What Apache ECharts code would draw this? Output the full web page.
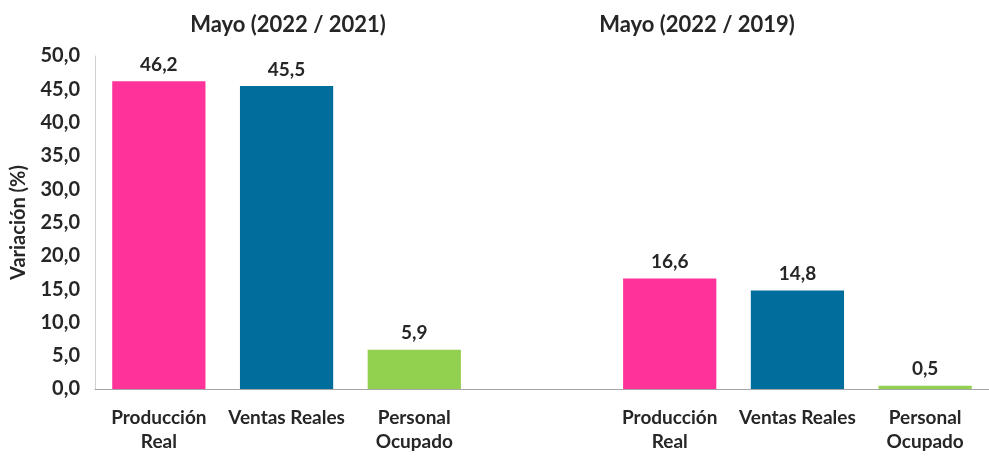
<!DOCTYPE html>
<html>
<head>
<meta charset="utf-8">
<script src="https://cdn.jsdelivr.net/npm/echarts@6/dist/echarts.min.js"></script>
<style>
html,body{margin:0;padding:0;background:#fff;}
#chart{width:989px;height:458px;}
</style>
</head>
<body>
<div id="chart"></div>
<script>
var categories = ['Producción\nReal', 'Ventas Reales', 'Personal\nOcupado', '', 'Producción\nReal', 'Ventas Reales', 'Personal\nOcupado'];
var values = [46.2, 45.5, 5.9, null, 16.6, 14.8, 0.5];
var groupTitles = ['Mayo (2022 / 2021)', 'Mayo (2022 / 2019)'];
var yTicks = [0, 5, 10, 15, 20, 25, 30, 35, 40, 45, 50];
var barColors = ['#FF3399', '#006E9C', '#92D050', '#ffffff', '#FF3399', '#006E9C', '#92D050'];

function fmt(v){ return Number(v).toFixed(1).replace('.', ','); }

var chart = echarts.init(document.getElementById('chart'));
var FONT = 'Lato, "Open Sans", sans-serif';
var TXT = '#262626';
chart.setOption({
  animation: false,
  textStyle: { fontFamily: FONT },
  title: [
    { text: groupTitles[0], left: 283, top: 9, textAlign: 'center',
      textStyle: { fontFamily: FONT, fontSize: 22, fontWeight: 'bold', color: TXT } },
    { text: groupTitles[1], left: 692, top: 9, textAlign: 'center',
      textStyle: { fontFamily: FONT, fontSize: 22, fontWeight: 'bold', color: TXT } }
  ],
  grid: { left: 95, top: 56, width: 903, height: 333 },
  xAxis: {
    type: 'category',
    data: categories,
    axisLine: { lineStyle: { color: '#a6a6a6', width: 1 } },
    axisTick: { show: false },
    axisLabel: { interval: 0, margin: 17, fontSize: 19, fontWeight: 'bold', color: TXT, lineHeight: 24, fontFamily: FONT }
  },
  yAxis: {
    type: 'value',
    min: yTicks[0], max: yTicks[yTicks.length - 1], interval: 5,
    name: 'Variación (%)',
    nameLocation: 'middle',
    nameGap: 66,
    nameTextStyle: { fontSize: 20, fontWeight: 'bold', color: TXT, fontFamily: FONT },
    axisLine: { show: true, lineStyle: { color: '#d0d0d0' } },
    axisTick: { show: false },
    splitLine: { show: false },
    axisLabel: { formatter: fmt, fontSize: 20, fontWeight: 'bold', color: TXT, margin: 15, fontFamily: FONT }
  },
  series: [{
    type: 'bar',
    data: values,
    barCategoryGap: '27%',
    itemStyle: { color: function(p){ return barColors[p.dataIndex]; } },
    label: {
      show: true, position: 'top', distance: 7,
      formatter: function(p){ return fmt(p.value); },
      fontSize: 19, fontWeight: 'bold', color: TXT, fontFamily: FONT
    }
  }]
});
</script>
</body>
</html>
